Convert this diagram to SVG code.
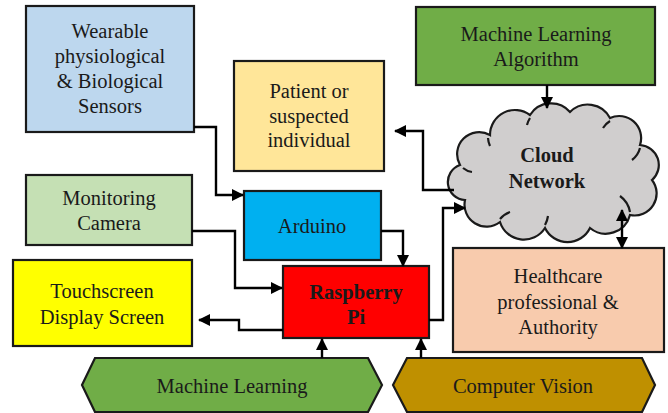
<svg xmlns="http://www.w3.org/2000/svg" width="668" height="413" viewBox="0 0 668 413" font-family="Liberation Serif, serif">
<style>
.b{stroke:#1a1a1a;stroke-width:2.2}
.t{font-family:'Liberation Serif','Times New Roman',serif;font-size:20.5px;fill:#1a1a1a;text-anchor:middle}
.bd{font-weight:bold}
.c{fill:none;stroke:#000;stroke-width:2.4}
</style>
<defs>
<marker id="ah" markerWidth="12" markerHeight="12" refX="11" refY="6" orient="auto-start-reverse" markerUnits="userSpaceOnUse">
<path d="M0,0 L12,6 L0,12 Z" fill="#000"/>
</marker>
</defs>
<rect width="668" height="413" fill="#fff"/>
<g id="wearable"><rect class="b" x="26" y="6" width="168" height="126" fill="#BDD7EE"/>
<text class="t" x="110" y="38">Wearable</text><text class="t" x="110" y="63">physiological</text><text class="t" x="110" y="88">&amp; Biological</text><text class="t" x="110" y="113">Sensors</text></g>
<g id="patient"><rect class="b" x="234" y="61" width="150" height="110" fill="#FFE699"/>
<text class="t" x="309" y="98">Patient or</text><text class="t" x="309" y="123">suspected</text><text class="t" x="309" y="147">individual</text></g>
<g id="mlalgo"><rect class="b" x="416" y="7" width="239" height="78" fill="#70AD47"/>
<text class="t" x="536" y="41">Machine Learning</text><text class="t" x="536" y="66">Algorithm</text></g>
<g id="cloud"><path class="b" fill="#D0CECE" d="M465,200 A18 18 0 0 1 460,165 A22 22 0 0 1 490,135 A25 25 0 0 1 530,115 A25 25 0 0 1 570,112 A25 25 0 0 1 610,118 A22 22 0 0 1 640,145 A20 20 0 0 1 652,180 A22 22 0 0 1 630,215 A25 25 0 0 1 590,228 A25 25 0 0 1 545,228 A25 25 0 0 1 500,222 A22 22 0 0 1 465,200 Z"/>
<path fill="none" class="b" d="M463,168 A18 18 0 0 0 472,172 M488,138 A22 22 0 0 0 490,146 M530,118 A25 25 0 0 0 527,125 M610,121 A22 22 0 0 0 603,128 M640,148 A22 22 0 0 1 632,160 M630,212 A25 25 0 0 0 620,196 M545,225 A25 25 0 0 0 548,216 M500,219 A22 22 0 0 1 510,212"/>
<text class="t bd" x="547" y="162">Cloud</text><text class="t bd" x="547" y="188">Network</text></g>
<g id="camera"><rect class="b" x="26" y="175" width="166" height="70" fill="#C5E0B4"/>
<text class="t" x="109" y="205">Monitoring</text><text class="t" x="109" y="230">Camera</text></g>
<g id="arduino"><rect class="b" x="244" y="191" width="137" height="69" fill="#00B0F0"/>
<text class="t" x="312" y="233">Arduino</text></g>
<g id="touch"><rect class="b" x="13" y="260" width="179" height="86" fill="#FFFF00"/>
<text class="t" x="102" y="298">Touchscreen</text><text class="t" x="102" y="324">Display Screen</text></g>
<g id="rpi"><rect class="b" x="283" y="266" width="146" height="72" fill="#FF0000"/>
<text class="t bd" x="356" y="299">Raspberry</text><text class="t bd" x="356" y="324">Pi</text></g>
<g id="health"><rect class="b" x="453" y="248" width="211" height="104" fill="#F8CBAD"/>
<text class="t" x="558" y="283">Healthcare</text><text class="t" x="558" y="309">professional &amp;</text><text class="t" x="558" y="334">Authority</text></g>
<g id="ml"><polygon class="b" points="82,385 95,358 368,358 382,385 368,412 95,412" fill="#70AD47"/>
<text class="t" x="232" y="393">Machine Learning</text></g>
<g id="cv"><polygon class="b" points="393,385 407,358 642,358 655,385 642,412 407,412" fill="#BF9000"/>
<text class="t" x="523" y="393">Computer Vision</text></g>
<g id="connectors">
<polyline class="c" points="194,127 216,127 216,195 243,195" marker-end="url(#ah)"/>
<polyline class="c" points="547,85 547,108" marker-end="url(#ah)"/>
<polyline class="c" points="454,190 423,190 423,131 395,131" marker-end="url(#ah)"/>
<polyline class="c" points="429,320 443,320 443,208 465,208" marker-end="url(#ah)"/>
<polyline class="c" points="622,210 622,248" marker-start="url(#ah)" marker-end="url(#ah)"/>
<polyline class="c" points="381,231 403,231 403,266" marker-end="url(#ah)"/>
<polyline class="c" points="192,231 235,231 235,288 282,288" marker-end="url(#ah)"/>
<polyline class="c" points="283,330 239,330 239,320 199,320" marker-end="url(#ah)"/>
<polyline class="c" points="322,358 322,339" marker-end="url(#ah)"/>
<polyline class="c" points="421,358 421,339" marker-end="url(#ah)"/>
</g>
</svg>
